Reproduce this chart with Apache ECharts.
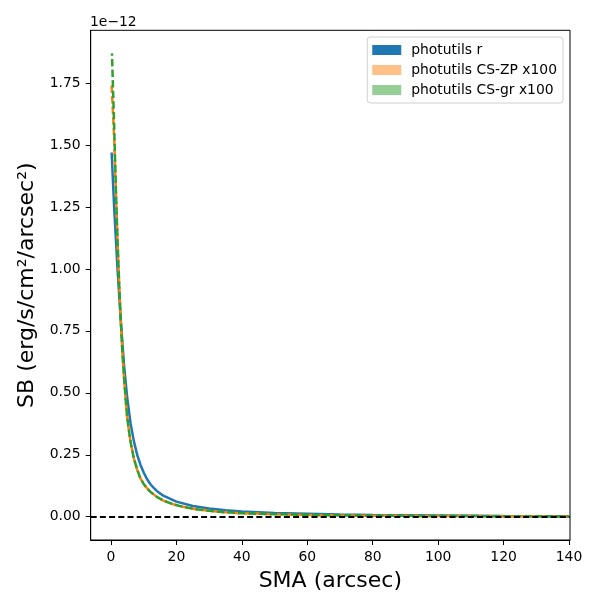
<!DOCTYPE html>
<html>
<head>
<meta charset="utf-8">
<script src="https://cdn.jsdelivr.net/npm/echarts@6/dist/echarts.min.js"></script>
<style>html,body{margin:0;padding:0;background:#fff}#c{width:600px;height:600px}</style>
</head>
<body>
<div id="c"></div>
<script>
// values in units of 1e-12 erg/s/cm^2/arcsec^2
const smaR  = [0.2, 1.0, 2.0, 3.0, 4.0, 5.0, 6.0, 7.0, 8.0, 9.0, 10, 11, 12, 13, 14, 16, 20, 25, 30, 35, 40, 50, 60, 70, 80, 90, 100, 120, 140];
const sbR   = [1.47, 1.24, 1.00, 0.79, 0.61, 0.475, 0.375, 0.305, 0.25, 0.21, 0.178, 0.152, 0.132, 0.117, 0.104, 0.085, 0.061, 0.043, 0.033, 0.026, 0.021, 0.015, 0.012, 0.009, 0.007, 0.006, 0.005, 0.003, 0.002];
const smaZP = [0.2, 1.0, 1.5, 2.0, 2.5, 3.0, 3.5, 4.0, 4.5, 5.0, 6.0, 7.0, 8.0, 9.0, 10, 11, 12, 14, 16, 19, 22, 26, 30, 35, 40, 50, 60, 70, 80, 100, 120, 140];
const sbZP  = [1.74, 1.52, 1.31, 1.11, 0.94, 0.79, 0.66, 0.56, 0.47, 0.395, 0.30, 0.235, 0.19, 0.155, 0.132, 0.115, 0.101, 0.080, 0.065, 0.050, 0.040, 0.030, 0.024, 0.018, 0.014, 0.010, 0.007, 0.005, 0.004, 0.003, 0.002, 0.001];
const smaGR = [0.3, 1.0, 1.5, 2.0, 2.5, 3.0, 3.5, 4.0, 4.5, 5.0, 6.0, 7.0, 8.0, 9.0, 10, 11, 12, 14, 16, 19, 22, 26, 30, 35, 40, 50, 60, 70, 80, 100, 120, 140];
const sbGR  = [1.87, 1.56, 1.32, 1.12, 0.94, 0.79, 0.66, 0.56, 0.47, 0.395, 0.30, 0.235, 0.19, 0.155, 0.132, 0.115, 0.101, 0.080, 0.065, 0.050, 0.040, 0.030, 0.024, 0.018, 0.014, 0.010, 0.007, 0.005, 0.004, 0.003, 0.002, 0.001];
const xTicks = [0, 20, 40, 60, 80, 100, 120, 140];
const yTicks = [0, 0.25, 0.5, 0.75, 1.0, 1.25, 1.5, 1.75];
const names = ['photutils r', 'photutils CS-ZP x100', 'photutils CS-gr x100'];

const pair = (xs, ys) => xs.map((x, i) => [x, ys[i]]);
const F = 'DejaVu Sans';
const chart = echarts.init(document.getElementById('c'), null, {renderer: 'canvas'});
chart.setOption({
  animation: false,
  backgroundColor: '#fff',
  textStyle: {fontFamily: F},
  title: {text: '1e\u221212', left: 90, top: 15, padding: 0, textStyle: {fontFamily: F, fontSize: 13.9, fontWeight: 'normal', color: '#000'}},
  grid: {left: 90.7, right: 30, top: 30.3, bottom: 60, show: true, borderColor: '#000', borderWidth: 1, containLabel: false},
  legend: {
    orient: 'vertical', right: 37, top: 37,
    padding: [6, 6, 6, 5],
    itemGap: 6, itemWidth: 29, itemHeight: 10, icon: 'rect',
    backgroundColor: '#fff', borderColor: '#d0d0d0', borderWidth: 1, borderRadius: 3,
    textStyle: {fontFamily: F, fontSize: 13.9, color: '#000', padding: [0, 0, 0, 5]},
    data: [
      {name: names[0], itemStyle: {color: '#1f77b4', borderWidth: 0}},
      {name: names[1], itemStyle: {color: '#ffbf86', borderWidth: 0}},
      {name: names[2], itemStyle: {color: '#95cf95', borderWidth: 0}}
    ]
  },
  xAxis: {
    type: 'value', min: -6.2, max: 140.3,
    name: 'SMA (arcsec)', nameLocation: 'middle', nameGap: 30,
    nameTextStyle: {fontFamily: F, fontSize: 22, color: '#000'},
    axisLine: {show: true, onZero: false, lineStyle: {color: '#000', width: 1}},
    axisTick: {show: true, length: 5, customValues: xTicks, lineStyle: {color: '#000'}},
    axisLabel: {customValues: xTicks, fontFamily: F, fontSize: 13.9, color: '#000', margin: 10},
    splitLine: {show: false}
  },
  yAxis: {
    type: 'value', min: -0.094, max: 1.963,
    name: 'SB (erg/s/cm\u00b2/arcsec\u00b2)', nameLocation: 'middle', nameGap: 52,
    nameTextStyle: {fontFamily: F, fontSize: 22, color: '#000'},
    axisLine: {show: true, onZero: false, lineStyle: {color: '#000', width: 1}},
    axisTick: {show: true, length: 5, customValues: yTicks, lineStyle: {color: '#000'}},
    axisLabel: {customValues: yTicks, fontFamily: F, fontSize: 13.9, color: '#000', margin: 10, formatter: v => v.toFixed(2)},
    splitLine: {show: false}
  },
  series: [
    {name: names[0], type: 'line', data: pair(smaR, sbR), showSymbol: false, symbol: 'none',
     lineStyle: {color: '#1f77b4', width: 2.5}, itemStyle: {color: '#1f77b4'}, z: 2},
    {name: names[1], type: 'line', data: pair(smaZP, sbZP), showSymbol: false, symbol: 'none',
     lineStyle: {color: '#ff7f0e', width: 2.5, type: [7.4, 3.2]}, itemStyle: {color: '#ff7f0e'}, z: 3},
    {name: names[2], type: 'line', data: pair(smaGR, sbGR), showSymbol: false, symbol: 'none',
     lineStyle: {color: '#2ca02c', width: 2.5, type: [7.4, 3.2], dashOffset: 5}, itemStyle: {color: '#2ca02c'}, z: 4,
     markLine: {silent: true, symbol: 'none', label: {show: false},
       lineStyle: {color: '#000', width: 2, type: [6, 3.2]},
       data: [{yAxis: 0}]}}
  ]
});
</script>
</body>
</html>
